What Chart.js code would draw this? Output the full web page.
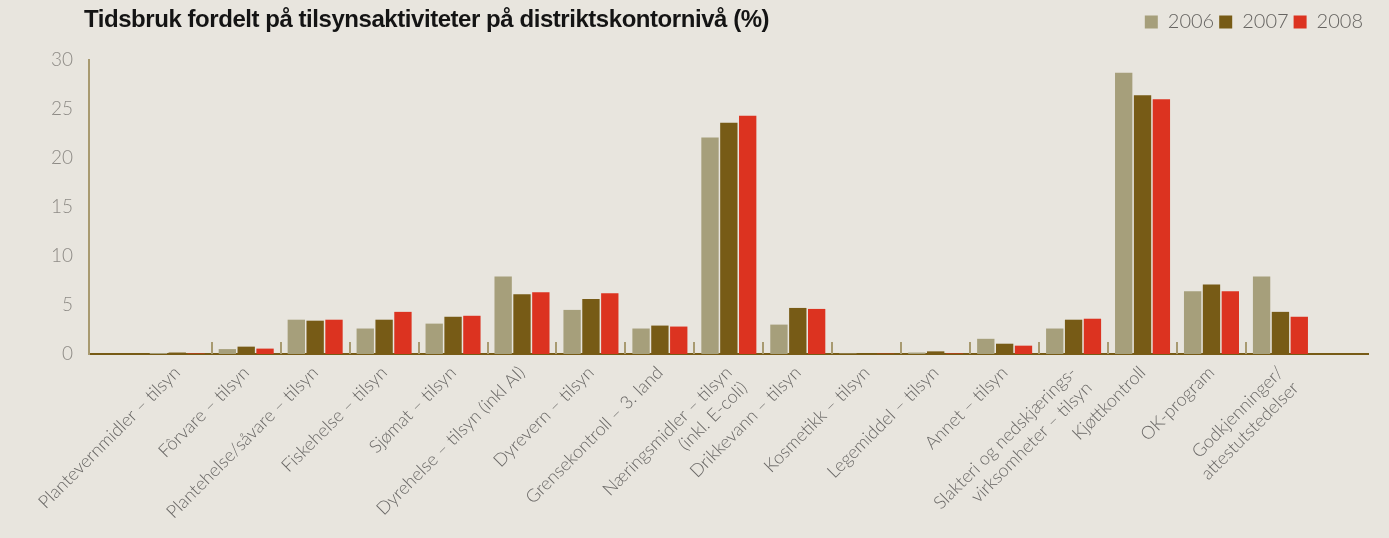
<!DOCTYPE html>
<html>
<head>
<meta charset="utf-8">
<script src="https://cdn.jsdelivr.net/npm/chart.js@4.4.0/dist/chart.umd.min.js"></script>
<style>
  html, body { margin: 0; padding: 0; background: #e8e5de; }
  #wrap { position: relative; width: 1389px; height: 538px; }
  #title { position: absolute; left: 84px; top: 5px; font: bold 24px "Liberation Sans Narrow", sans-serif; letter-spacing: -0.45px; color: #141414; white-space: nowrap; }
  canvas { position: absolute; left: 0; top: 0; }
</style>
</head>
<body>
<div id="wrap">
  <canvas id="chart" width="1389" height="538"></canvas>
  <div id="title">Tidsbruk fordelt på tilsynsaktiviteter på distriktskontornivå (%)</div>
</div>
<script>
const categories = [
  "Plantevernmidler – tilsyn",
  "Fôrvare – tilsyn",
  "Plantehelse/såvare – tilsyn",
  "Fiskehelse – tilsyn",
  "Sjømat – tilsyn",
  "Dyrehelse – tilsyn (inkl AI)",
  "Dyrevern – tilsyn",
  "Grensekontroll – 3. land",
  ["Næringsmidler – tilsyn", "(inkl. E-coli)"],
  "Drikkevann – tilsyn",
  "Kosmetikk – tilsyn",
  "Legemiddel – tilsyn",
  "Annet – tilsyn",
  ["Slakteri og nedskjærings-", "virksomheter – tilsyn"],
  "Kjøttkontroll",
  "OK-program",
  ["Godkjenninger/", "attestutstedelser"]
];
const years = ["2006", "2007", "2008"];
const values2006 = [0.1, 0.5, 3.5, 2.6, 3.1, 7.9, 4.5, 2.6, 22.1, 3.0, 0.05, 0.15, 1.55, 2.6, 28.7, 6.4, 7.9];
const values2007 = [0.15, 0.75, 3.4, 3.5, 3.8, 6.1, 5.6, 2.9, 23.6, 4.7, 0.03, 0.27, 1.05, 3.5, 26.4, 7.1, 4.3];
const values2008 = [0.05, 0.55, 3.5, 4.3, 3.9, 6.3, 6.2, 2.8, 24.3, 4.6, 0.03, 0.05, 0.85, 3.6, 26.0, 6.4, 3.8];
const yTicks = [0, 5, 10, 15, 20, 25, 30];

const colors = ["#a69f7b", "#775b16", "#dc3320"];
const labelFont = "Lato";

// small separators standing on the x axis between the groups
const separatorPlugin = {
  id: "separators",
  afterDatasetsDraw(chart) {
    const x = chart.scales.x;
    const bottom = chart.chartArea.bottom;
    const c = chart.ctx;
    c.save();
    c.strokeStyle = "#a89a70";
    c.lineWidth = 2;
    for (let k = 0; k < categories.length - 1; k++) {
      const px = Math.round(x.getPixelForValue(k + 0.5));
      c.beginPath();
      c.moveTo(px, bottom - 12);
      c.lineTo(px, bottom);
      c.stroke();
    }
    c.restore();
  }
};

const seriesList = [values2006, values2007, values2008];

new Chart(document.getElementById("chart").getContext("2d"), {
  type: "bar",
  data: {
    datasets: seriesList.map((vals, i) => ({
      label: years[i],
      data: vals.map((v, j) => ({ x: j, y: v })),
      backgroundColor: colors[i],
      categoryPercentage: 0.82,
      barPercentage: 0.92
    }))
  },
  options: {
    responsive: false,
    animation: false,
    layout: { padding: { left: 0, right: 21, top: 7, bottom: 0 } },
    plugins: {
      tooltip: { enabled: false },
      legend: {
        position: "top",
        align: "end",
        labels: {
          boxWidth: 13,
          boxHeight: 13,
          padding: 5,
          color: "#666461",
          font: { family: labelFont, size: 20, weight: "300" }
        }
      }
    },
    scales: {
      x: {
        type: "linear",
        offset: false,
        min: -1.28,
        max: 17.27,
        grid: { display: false, drawTicks: false },
        border: { display: true, color: "#775b16", width: 2 },
        afterBuildTicks: axis => {
          axis.ticks = categories.map((c, i) => ({ value: i }));
        },
        afterFit: axis => { axis.height = 184; },
        ticks: {
          autoSkip: false,
          minRotation: 45,
          maxRotation: 45,
          padding: 8,
          color: "#6a6866",
          font: { family: labelFont, size: 18, weight: "300" },
          callback: v => categories[v]
        }
      },
      xTop: {
        type: "linear",
        position: "top",
        grid: { display: false, drawTicks: false },
        border: { display: false },
        ticks: { display: false },
        afterFit: axis => { axis.height = 18; }
      },
      y: {
        min: 0,
        max: 30,
        grid: { display: false, drawTicks: false },
        border: { display: true, color: "#a89a70", width: 2 },
        afterBuildTicks: axis => {
          axis.ticks = yTicks.map(v => ({ value: v }));
        },
        afterFit: axis => { axis.width = 89; },
        ticks: {
          padding: 16,
          color: "#8e8b86",
          font: { family: labelFont, size: 19, weight: "300" }
        }
      }
    }
  },
  plugins: [separatorPlugin]
});
</script>
</body>
</html>
